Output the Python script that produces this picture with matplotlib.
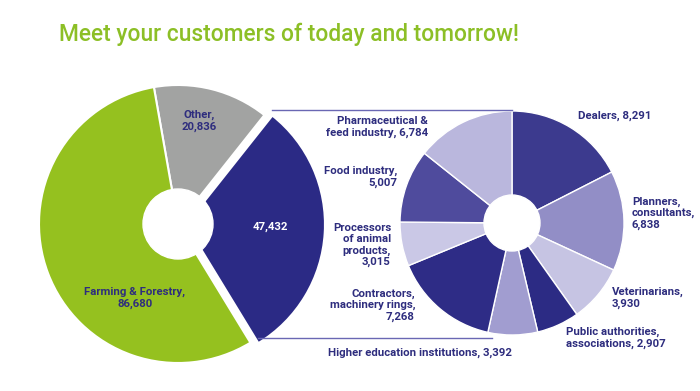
import numpy as np
import matplotlib
matplotlib.use("Agg")
import matplotlib.pyplot as plt
import matplotlib.patches as mpatches

# données
main_labels = ["Other,\n20,836", "47,432", "Farming & Forestry,\n86,680"]
main_values = [20836, 47432, 86680]
main_colors = ["#a2a3a2", "#2b2a85", "#95c11f"]

sub_labels = [
    "Dealers, 8,291",
    "Planners,\nconsultants,\n6,838",
    "Veterinarians,\n3,930",
    "Public authorities,\nassociations, 2,907",
    "Higher education institutions, 3,392",
    "Contractors,\nmachinery rings,\n7,268",
    "Processors\nof animal\nproducts,\n3,015",
    "Food industry,\n5,007",
    "Pharmaceutical &\nfeed industry, 6,784",
]
sub_values = [8291, 6838, 3930, 2907, 3392, 7268, 3015, 5007, 6784]
sub_colors = ["#3c3a8e", "#928ec6", "#c6c4e3", "#2c2b84", "#a19dd0",
              "#2e2c86", "#cac8e6", "#4f4b9d", "#bab7dd"]

NAVY = "#2e2d7e"
GREEN = "#8cbf26"
FONT = "Roboto"

W, H = 700, 391
fig = plt.figure(figsize=(7, 3.91), dpi=100)
ax = fig.add_axes([0, 0, 1, 1])

# camembert principal
c1 = (178, H - 224)
r1 = 139
w1, _ = ax.pie(main_values, colors=main_colors, radius=r1, center=c1,
               startangle=100, counterclock=False, explode=[0, 8, 0],
               wedgeprops=dict(edgecolor="white", linewidth=1.5))
ax.add_patch(mpatches.Circle(c1, 35, color="white", zorder=5))

# camembert détail
c2 = (512, H - 223)
r2 = 112
w2, _ = ax.pie(sub_values, colors=sub_colors, radius=r2, center=c2,
               startangle=90, counterclock=False,
               wedgeprops=dict(edgecolor="white", linewidth=1))
ax.add_patch(mpatches.Circle(c2, 28, color="white", zorder=5))

# lignes de liaison
blue = w1[1]
bx, by = blue.center
t_top = np.deg2rad(blue.theta2)
t_bot = np.deg2rad(blue.theta1)
x_top = bx + r1 * np.cos(t_top)
x_bot = bx + r1 * np.cos(t_bot)
ax.plot([x_top, c2[0]], [c2[1] + r2 + 1, c2[1] + r2 + 1], color="#6a67b3", lw=1)
ax.plot([x_bot, c2[0] - 20], [c2[1] - r2 - 3, c2[1] - r2 - 3], color="#6a67b3", lw=1)

# libellés
kw = dict(fontsize=8.2, fontweight="bold", family=FONT, color=NAVY,
          va="center", linespacing=1.15, zorder=6)
ax.text(199, H - 121, main_labels[0], ha="center", **kw)
ax.text(270, H - 227, main_labels[1], ha="center", **{**kw, "color": "white"})
ax.text(135, H - 298, main_labels[2], ha="center", **kw)

sub_pos = [
    (578, 116, "left"),
    (632, 213, "left"),
    (612, 298, "left"),
    (566, 338, "left"),
    (328, 353, "left"),
    (415, 305, "right"),
    (391, 245, "right"),
    (397, 177, "right"),
    (428, 127, "right"),
]
for lab, (x, y, ha) in zip(sub_labels, sub_pos):
    ax.text(x, H - y, lab, ha=ha, multialignment=ha, **kw)

# titre
ax.text(59, H - 34, "Meet your customers of today and tomorrow!", fontsize=16.4,
        family=FONT, fontweight="medium", color=GREEN, ha="left", va="center")

ax.set_xlim(0, W)
ax.set_ylim(0, H)
ax.set_aspect("equal")
ax.axis("off")

fig.savefig("out.png", dpi=100, facecolor="white")
